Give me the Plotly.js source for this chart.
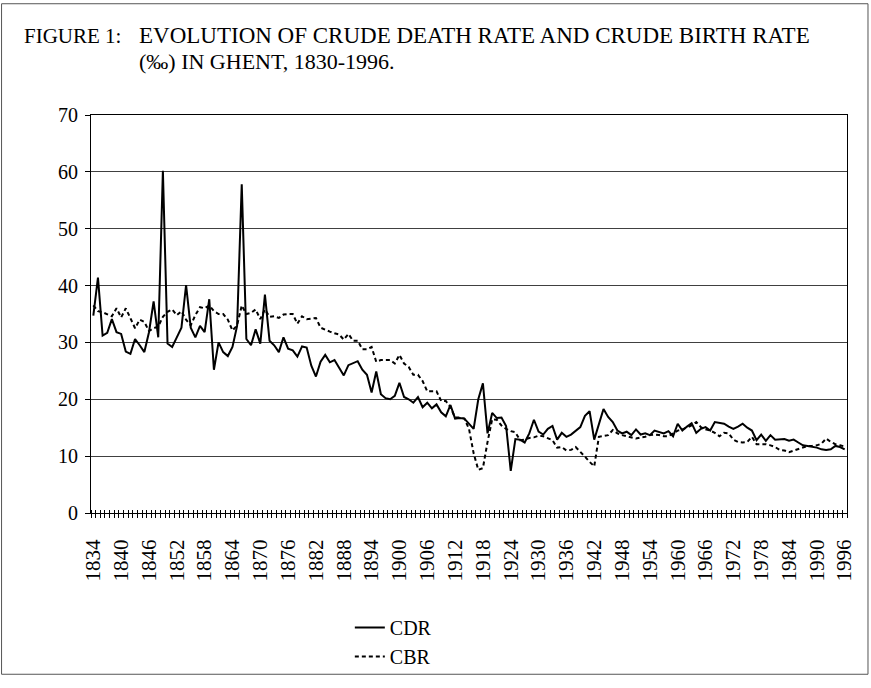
<!DOCTYPE html>
<html>
<head>
<meta charset="utf-8">
<script src="https://cdn.plot.ly/plotly-3.0.1.min.js"></script>
<style>
  body { margin: 0; background: #fff; }
  #chart { width: 871px; height: 688px; }
</style>
</head>
<body>
<div id="chart"></div>
<script>
// Crude death / birth rate per 1000, Ghent
const startYear = 1834;
const endYear = 1996;

const cdr = [
  34.7, 41.4, 31.2, 31.7, 34.1, 31.8, 31.5, 28.4, 28.0, 30.6,   // 1834-1843
  29.5, 28.3, 31.8, 37.2, 30.9, 60.2, 29.8, 29.2, 30.9, 32.6,   // 1844-1853
  40.1, 32.6, 30.9, 32.9, 31.8, 37.6, 25.2, 30.0, 28.3, 27.6,   // 1854-1863
  29.2, 32.9, 57.8, 30.6, 29.5, 32.3, 29.8, 38.4, 30.3, 29.5,   // 1864-1873
  28.3, 30.9, 28.9, 28.6, 27.5, 29.3, 29.1, 25.9, 24.0, 26.6,   // 1874-1883
  27.8, 26.5, 26.9, 25.5, 24.2, 26.0, 26.3, 26.7, 25.2, 24.3,   // 1884-1893
  21.2, 24.9, 20.9, 20.2, 20.0, 20.6, 22.9, 20.4, 20.0, 19.4,   // 1894-1903
  20.4, 18.6, 19.4, 18.4, 19.1, 17.7, 17.0, 19.0, 16.6, 16.7,   // 1904-1913
  16.6, 15.7, 14.8, 20.0, 22.8, 14.0, 17.6, 16.7, 16.8, 15.3,   // 1914-1923
  7.4, 13.0, 12.9, 12.4, 14.0, 16.4, 14.3, 13.8, 14.8, 15.3,    // 1924-1933
  12.9, 14.1, 13.4, 13.8, 14.4, 15.1, 17.1, 17.9, 12.9, 15.4,   // 1934-1943
  18.3, 16.9, 16.0, 14.5, 14.0, 14.3, 13.7, 14.7, 13.8, 14.0,   // 1944-1953
  13.7, 14.5, 14.3, 14.0, 14.4, 13.5, 15.7, 14.5, 15.2, 15.8,   // 1954-1963
  14.1, 14.8, 15.1, 14.5, 16.0, 15.8, 15.7, 15.2, 14.8, 15.2,   // 1964-1973
  15.7, 15.0, 14.5, 12.8, 13.8, 12.7, 13.7, 12.9, 12.9, 13.0,   // 1974-1983
  12.7, 12.9, 12.4, 11.9, 11.8, 11.7, 11.5, 11.2, 11.1, 11.2,   // 1984-1993
  11.8, 11.6, 11.2                                              // 1994-1996
];

const cbr = [
  36.5, 35.5, 35.3, 35.0, 34.6, 36.0, 34.4, 36.0, 34.1, 32.5,   // 1834-1843
  34.0, 33.6, 32.0, 32.5, 32.8, 34.5, 35.4, 35.8, 34.8, 35.5,   // 1844-1853
  34.0, 33.0, 34.8, 36.2, 36.0, 36.5, 35.5, 35.0, 35.0, 34.0,   // 1854-1863
  32.1, 33.0, 36.5, 35.0, 35.2, 35.8, 34.1, 35.8, 34.5, 34.6,   // 1864-1873
  34.3, 34.9, 35.0, 35.0, 33.3, 34.6, 34.1, 34.2, 34.3, 32.6,   // 1874-1883
  32.2, 31.9, 31.6, 31.4, 30.5, 31.5, 30.3, 30.3, 28.8, 28.8,   // 1884-1893
  29.2, 26.6, 26.9, 26.9, 26.9, 26.3, 27.8, 26.3, 25.7, 24.3,   // 1894-1903
  24.3, 23.2, 21.4, 21.4, 21.4, 19.7, 19.7, 18.6, 16.8, 16.8,   // 1904-1913
  16.6, 14.8, 10.5, 7.6, 7.9, 12.5, 16.5, 16.4, 15.4, 14.8,     // 1914-1923
  14.4, 14.2, 12.8, 12.9, 13.2, 13.3, 13.6, 13.5, 13.1, 12.8,   // 1924-1933
  11.5, 11.6, 11.0, 11.1, 11.6, 10.8, 9.9, 9.0, 8.2, 13.4,      // 1934-1943
  13.5, 13.7, 14.6, 14.0, 13.7, 13.5, 13.3, 13.1, 13.3, 13.4,   // 1944-1953
  13.7, 13.8, 13.7, 13.5, 13.5, 14.0, 14.5, 14.7, 15.0, 15.4,   // 1954-1963
  16.0, 15.1, 14.7, 14.5, 14.1, 13.5, 14.1, 14.0, 12.9, 12.5,   // 1964-1973
  12.4, 12.5, 13.4, 12.1, 12.1, 12.1, 11.9, 11.6, 11.1, 11.0,   // 1974-1983
  10.7, 11.0, 11.2, 11.5, 11.8, 11.8, 11.9, 12.2, 13.1, 12.5,   // 1984-1993
  12.1, 11.9, 11.7                                              // 1994-1996
];

const years = [];
for (let y = startYear; y <= endYear; y++) years.push(y);

const labelYears = years.filter(y => (y - startYear) % 6 === 0);

// pixel helpers for plot area (l=91, r=847.5, t=115, b=521)
const plotL = 91, plotR = 847.5, plotT = 115, plotB = 521;
const px = x => (x - plotL) / (plotR - plotL);
const py = y => (plotB - y) / (plotB - plotT);

const serif = '"Liberation Serif", "Times New Roman", serif';

const traceCDR = {
  x: years,
  y: cdr,
  name: 'CDR',
  type: 'scatter',
  mode: 'lines',
  line: {color: '#000', width: 2}
};

// CBR sits on the overlay axis that carries the year tick marks
const traceCBR = {
  x: years,
  y: cbr,
  name: 'CBR',
  type: 'scatter',
  mode: 'lines',
  xaxis: 'x2',
  line: {color: '#000', width: 2, dash: '4px,3px'}
};

const xRange = [startYear - 0.5, endYear + 0.5];

const layout = {
  width: 871,
  height: 688,
  margin: {l: plotL, r: 871 - plotR, t: plotT, b: 688 - plotB},
  paper_bgcolor: '#fff',
  plot_bgcolor: '#fff',
  font: {family: serif, color: '#000', size: 20},
  showlegend: true,
  legend: {
    x: px(350), y: py(618), xanchor: 'left', yanchor: 'top',
    font: {family: serif, size: 20, color: '#000'},
    bgcolor: 'rgba(0,0,0,0)',
    tracegroupgap: 0
  },
  xaxis: {
    type: 'linear',
    range: xRange,
    tickmode: 'array',
    tickvals: labelYears,
    ticktext: labelYears.map(String),
    tickangle: -90,
    ticks: '',
    ticklabelstandoff: 17,
    tickfont: {family: serif, size: 21},
    showgrid: false,
    zeroline: false,
    showline: true,
    linecolor: '#000',
    linewidth: 1,
    mirror: true
  },
  // tick marks crossing the axis line, one per year
  xaxis2: {
    overlaying: 'x',
    anchor: 'free',
    position: 4 / (plotB - plotT),
    side: 'bottom',
    type: 'linear',
    range: xRange,
    tickmode: 'linear',
    tick0: startYear - 0.5,
    dtick: 1,
    ticks: 'outside',
    ticklen: 8,
    tickwidth: 1,
    tickcolor: '#000',
    showticklabels: false,
    showgrid: false,
    zeroline: false,
    showline: false
  },
  yaxis: {
    range: [0, 70],
    dtick: 10,
    ticks: 'outside',
    ticklen: 5,
    tickcolor: '#000',
    ticklabelstandoff: 3,
    tickfont: {family: serif, size: 20},
    showgrid: true,
    gridcolor: '#404040',
    gridwidth: 1,
    zeroline: false,
    showline: true,
    linecolor: '#000',
    linewidth: 1,
    mirror: true
  },
  annotations: [
    {
      text: 'FIGURE 1:', xref: 'paper', yref: 'paper',
      x: px(22), y: py(34), xanchor: 'left', yanchor: 'middle',
      showarrow: false, font: {family: serif, size: 21, color: '#000'}
    },
    {
      text: 'EVOLUTION OF CRUDE DEATH RATE AND CRUDE BIRTH RATE', xref: 'paper', yref: 'paper',
      x: px(137), y: py(34), xanchor: 'left', yanchor: 'middle',
      showarrow: false, font: {family: serif, size: 23, color: '#000'}
    },
    {
      text: '(‰) IN GHENT, 1830-1996.', xref: 'paper', yref: 'paper',
      x: px(137), y: py(60), xanchor: 'left', yanchor: 'middle',
      showarrow: false, font: {family: serif, size: 22, color: '#000'}
    }
  ],
  shapes: [
    // outer frame of the figure
    {type: 'rect', xref: 'paper', yref: 'paper',
     x0: px(1.5), x1: px(868.5), y0: py(685.5), y1: py(1.5),
     line: {color: '#555', width: 1}, fillcolor: 'rgba(0,0,0,0)', layer: 'below'}
  ]
};

Plotly.newPlot('chart', [traceCDR, traceCBR], layout, {displayModeBar: false, staticPlot: true});
</script>
</body>
</html>
